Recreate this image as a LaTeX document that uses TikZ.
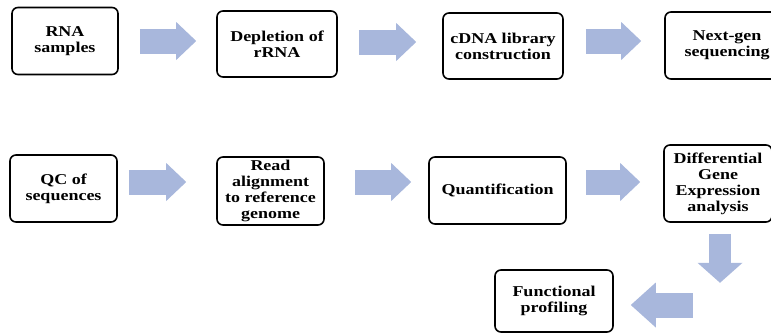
\documentclass[tikz,border=0pt]{standalone}
\usepackage{fontspec}
\setmainfont[FakeStretch=1.2]{Liberation Serif}
\usetikzlibrary{arrows.meta}
\definecolor{arrowblue}{RGB}{168,183,220}
\tikzset{
    stage/.style={draw=black, line width=1.6pt, rounded corners=6pt, fill=white,
        align=center, font=\fontsize{15}{16}\selectfont\bfseries, inner sep=2pt},
    flow/.style={draw=arrowblue, line width=25pt,
        -{Triangle[length=20pt,width=38pt,line width=0pt]}},
    flowdown/.style={draw=arrowblue, line width=22pt,
        -{Triangle[length=20pt,width=45pt,line width=0pt]}},
    flowback/.style={draw=arrowblue, line width=25pt,
        -{Triangle[length=25pt,width=45pt,line width=0pt]}}
}
\begin{document}
\begin{tikzpicture}[x=1pt,y=-1pt]
    \useasboundingbox (0,0) rectangle (771,335);
    \clip (0,0) rectangle (771,335);

    % first row
    \node[stage, minimum width=106pt, minimum height=67pt] (rna) at (65,41) {RNA\\samples};
    \node[stage, minimum width=120pt, minimum height=66pt] (depl) at (277,44) {Depletion of\\rRNA};
    \node[stage, minimum width=120pt, minimum height=66pt] (cdna) at (503,46) {cDNA library\\construction};
    \node[stage, minimum width=124pt, minimum height=67pt] (ngs) at (727,45.5) {Next-gen\\sequencing};

    % second row
    \node[stage, minimum width=107pt, minimum height=67pt] (qc) at (63.5,188.5) {QC of\\sequences};
    \node[stage, minimum width=107pt, minimum height=68pt] (align) at (270.5,191) {Read\\alignment\\to reference\\genome};
    \node[stage, minimum width=137pt, minimum height=67pt] (quant) at (497.5,190.5) {Quantification};
    \node[stage, minimum width=108pt, minimum height=77pt] (dge) at (718,183.5) {Differential\\Gene\\Expression\\analysis};

    % last step
    \node[stage, minimum width=118pt, minimum height=62pt] (func) at (554,301) {Functional\\profiling};

    % arrows
    \draw[flow] ([xshift=21pt]rna.east |- 0,41) -- ([xshift=-20pt]depl.west |- 0,41);
    \draw[flow] ([xshift=21pt]depl.east |- 0,42) -- ([xshift=-26pt]cdna.west |- 0,42);
    \draw[flow] ([xshift=22pt]cdna.east |- 0,41) -- ([xshift=-23pt]ngs.west |- 0,41);

    \draw[flow] ([xshift=11pt]qc.east |- 0,182) -- ([xshift=-30pt]align.west |- 0,182);
    \draw[flow] ([xshift=30pt]align.east |- 0,182) -- ([xshift=-17pt]quant.west |- 0,182);
    \draw[flow] ([xshift=19pt]quant.east |- 0,182) -- ([xshift=-23pt]dge.west |- 0,182);

    \draw[flowdown] ([shift={(2pt,-11pt)}]dge.south) -- ++(0,49);
    \draw[flowback] ([shift={(79pt,-4pt)}]func.east) -- ([shift={(17pt,-4pt)}]func.east);
\end{tikzpicture}
\end{document}
